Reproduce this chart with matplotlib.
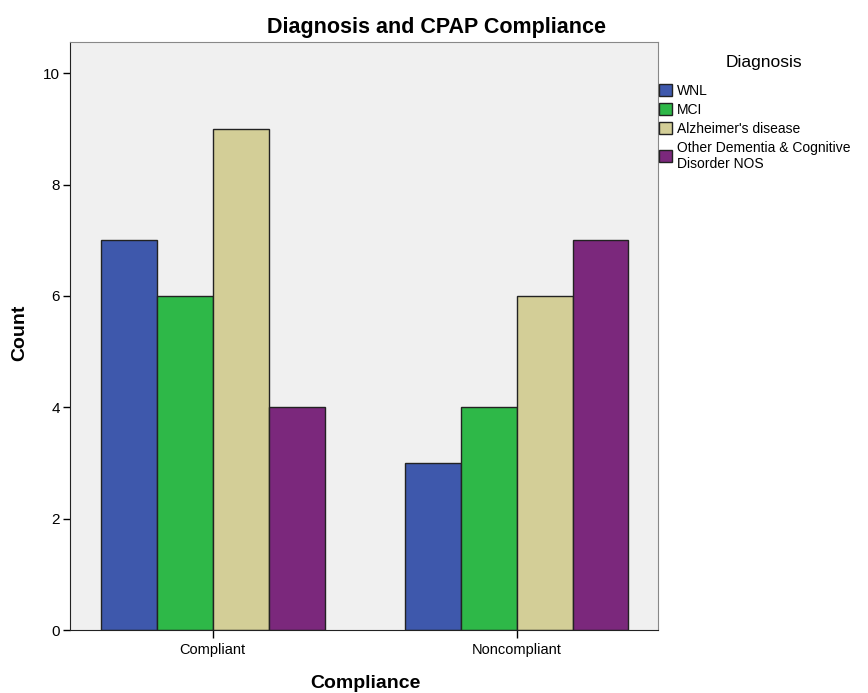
import matplotlib
matplotlib.use("Agg")
from matplotlib import pyplot as plt
from matplotlib.patches import Patch
import numpy as np

plt.rcParams['font.family'] = ['Liberation Sans', 'DejaVu Sans']

# データ
groups = ["Compliant", "Noncompliant"]
diagnoses = ["WNL", "MCI", "Alzheimer's disease", "Other Dementia & Cognitive\nDisorder NOS"]
counts = {
    "WNL": [7, 3],
    "MCI": [6, 4],
    "Alzheimer's disease": [9, 6],
    "Other Dementia & Cognitive\nDisorder NOS": [4, 7],
}
colors = ["#3E58AC", "#2EB848", "#D3CE97", "#7B287C"]

fig = plt.figure(figsize=(8.68, 6.93), dpi=100)
ax = fig.add_axes([0.0806, 0.0909, 0.6774, 0.8485])
ax.set_facecolor("#F0F0F0")

x = np.arange(len(groups))
w = 0.184
for i, d in enumerate(diagnoses):
    ax.bar(x + (i - 1.5) * w, counts[d], width=w, color=colors[i],
           edgecolor="#222222", linewidth=1.0, zorder=2)

ax.set_xlim(-0.47, 1.465)
ax.set_ylim(0, 10.56)
ax.set_yticks([0, 2, 4, 6, 8, 10])
ax.set_xticks(x)
ax.set_xticklabels(groups, fontsize=10.5)
ax.tick_params(axis="y", labelsize=11, length=5, width=1, pad=2)
ax.tick_params(axis="x", length=6, width=1, pad=3)

for s in ["top", "right"]:
    ax.spines[s].set_color("#888888")
for s in ["left", "bottom"]:
    ax.spines[s].set_color("#222222")

# 軸ラベルとタイトル
fig.text(20 / 868, 1 - 333 / 693, "Count", rotation=90, ha="center", va="center",
         fontsize=14, fontweight="bold")
fig.text(365 / 868, 1 - 683 / 693, "Compliance", ha="center", va="center",
         fontsize=14, fontweight="bold")
fig.text(436 / 868, 1 - 28 / 693, "Diagnosis and CPAP Compliance", ha="center",
         va="center", fontsize=15.5, fontweight="bold")

# 凡例
fig.text(764 / 868, 1 - 62 / 693, "Diagnosis", ha="center", va="center", fontsize=12.5)
handles = [Patch(facecolor=c, edgecolor="#222222") for c in colors]
fig.legend(handles, diagnoses, loc="upper left", bbox_to_anchor=(659 / 868, 1 - 84 / 693),
           frameon=False, fontsize=10, borderpad=0, borderaxespad=0,
           handlelength=0.94, handleheight=0.94, handletextpad=0.36,
           labelspacing=0.35)

plt.savefig("out.png", dpi=100)
